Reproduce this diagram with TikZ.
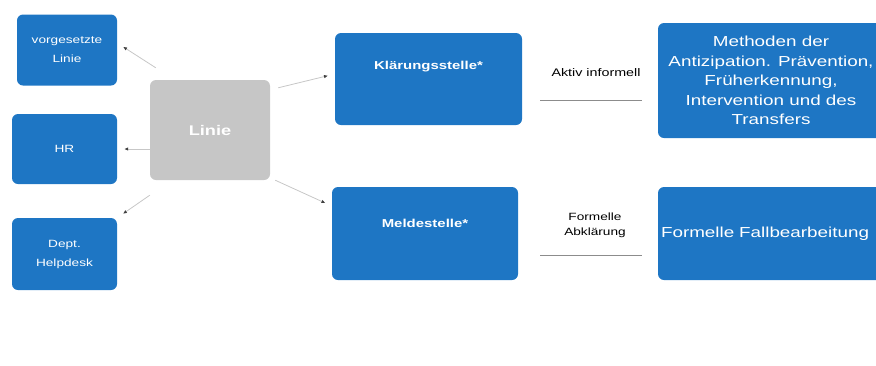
\documentclass[tikz,border=0pt]{standalone}
\usepackage{fontspec}
\setmainfont{Liberation Sans}[FakeStretch=1.3]
\usepackage{tikz}
\usetikzlibrary{arrows.meta}
\usetikzlibrary{positioning}
\definecolor{boxblue}{RGB}{30,118,196}
\definecolor{boxgrey}{RGB}{198,198,198}
\tikzset{
    bluebox/.style={draw=none, fill=boxblue, rounded corners=6pt, text=white,
        align=center, inner sep=2pt},
    greybox/.style={draw=none, fill=boxgrey, rounded corners=6pt, text=white,
        align=center, font=\bfseries\fontsize{14}{16}\selectfont},
    link/.style={draw=black!22, line width=0.8pt, shorten >=7pt,
        -{Latex[length=4pt,width=3.5pt,color=black!75]}},
    rule/.style={draw=black!45, line width=0.7pt},
    small/.style={font=\fontsize{10.5}{19}\selectfont},
}

\begin{document}
\begin{tikzpicture}[x=1pt, y=-1pt]
	\useasboundingbox (0,0) rectangle (876,365);
	% left column
		\node[bluebox, small, minimum width=100pt, minimum height=71pt] (vorg) at (67,50)
			{vorgesetzte\\Linie};
		\node[bluebox, small, minimum width=105pt, minimum height=70pt] (hr) at (64.5,149) {HR};
		\node[bluebox, small, minimum width=105pt, minimum height=72pt] (help) at (64.5,254)
			{Dept.\\Helpdesk};
	% centre
		\node[greybox, minimum width=120pt, minimum height=100pt] (linie) at (210,130) {Linie};
		\node[bluebox, minimum width=187pt, minimum height=92pt,
			font=\bfseries\fontsize{11.5}{13}\selectfont] (klaer) at (428.5,79) {Kl\"arungsstelle*\\[15pt]};
		\node[bluebox, minimum width=186pt, minimum height=93pt,
			font=\bfseries\fontsize{11.5}{13}\selectfont] (melde) at (425,233.5) {Meldestelle*\\[7pt]};
	% right column
		\node[bluebox, minimum width=226pt, minimum height=115pt,
			font=\fontsize{14.5}{19.5}\selectfont] (method) at (771,80.5)
			{Methoden der\\Antizipation. Pr\"avention,\\Fr\"uherkennung,\\Intervention und des\\Transfers};
		\node[bluebox, minimum width=226pt, minimum height=93pt,
			font=\fontsize{14.5}{17}\selectfont, text width=220pt, align=left] (fall) at (771,233.5)
			{Formelle Fallbearbeitung};
	% connectors
		\draw[link] (linie.north west) ++(6,-12) coordinate (s1) (s1) -- (vorg.east |- 0,43);
		\draw[link] (linie.west |- hr.east) -- (hr.east);
		\draw[link] (linie.south west) ++(0,15) coordinate (s3) (s3) -- (help.north east);
		\draw[link] (linie.north east) ++(8,8) coordinate (s4) (s4) -- (klaer.west |- 0,74);
		\draw[link] (linie.south east) ++(5,0) coordinate (s5) (s5) -- (melde.west |- 0,206);
	% labels between
		\node[font=\fontsize{11}{13}\selectfont] (aktiv) at (596,73) {Aktiv informell};
		\coordinate (r1a) at (540,100);
		\coordinate (r1b) at (642,100);
		\draw[rule] (r1a) -- (r1b);
		\node[font=\fontsize{10.5}{15}\selectfont, align=center] (formell) at (595,225)
			{Formelle\\Abkl\"arung};
		\coordinate (r2a) at (540,255);
		\coordinate (r2b) at (642,255);
		\draw[rule] (r2a) -- (r2b);
\end{tikzpicture}
\end{document}
